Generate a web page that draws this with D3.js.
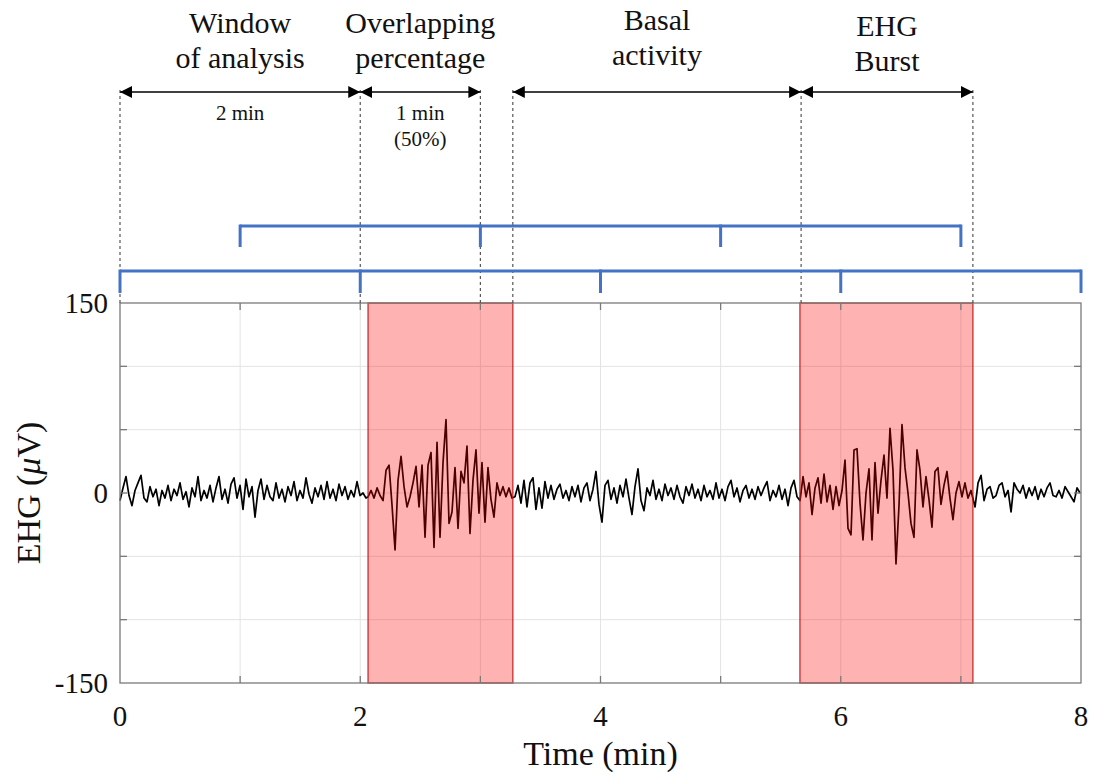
<!DOCTYPE html>
<html lang="en">
<head>
<meta charset="UTF-8">
<title>EHG windowing</title>
<script src="https://cdnjs.cloudflare.com/ajax/libs/d3/7.8.5/d3.min.js"></script>
<style>
  body { margin: 0; background: #fff; }
  svg text { font-family: "Liberation Serif", "Times New Roman", serif; fill: #111; }
</style>
</head>
<body>
<svg id="chart" width="1093" height="775"></svg>
<script>
// ---- data (time in min, EHG in µV) ----
const xTicks = [0, 1, 2, 3, 4, 5, 6, 7, 8];
const xTickLabels = [0, 2, 4, 6, 8];
const yTicks = [-150, -100, -50, 0, 50, 100, 150];
const yTickLabels = [-150, 0, 150];

// segments of the trace: [start, end] in minutes, then the sampled values
const baselineSpan = [0, 2.048];
const baselineValues = [-6, 4, 13, -2, -10, 2, 8, 14, -4, -7, 5, -3, 3, -10, 2, -4, 6, -6, 3, -2,
  8, -5, 1, -11, 4, -3, 13, -6, 2, -4, 6, -7, 4, 13, -5, 3, -8, 7, 12, -4,
  6, -13, 11, -3, 5, -19, 2, 11, -5, 6, -3, -6, 8, -4, 3, -7, 5, -2, 9, -6,
  2, -4, 12, -1, -8, 4, -3, 6, -5, 9, -4, 3, -6, 7, -2, 5, -5, 2, -3, 9,
  -2, 0, -4];
const burst1Span = [2.065, 3.263];
const burst1Values = [-3, 2, -4, 4, -2, -6, 18, 22, -10, -45, 10, 29, 5, -11, -3, 8, 21, -11, 22, -35,
  22, 32, -43, 40, -35, 24, 58, -24, -15, 20, -28, 17, 8, 37, -32, 10, 34, -16, 24, -23,
  20, -5, -19, 8, -2, 5, -3, 4, -4];
const basalSpan = [3.288, 5.636];
const basalValues = [-3, 6, -8, 10, -11, 8, 12, -13, 4, -12, 9, -4, 6, -5, 3, 7, -4, 2, -6, 5,
  -3, 6, -7, 4, 8, -6, 3, 17, -9, -23, 6, 10, -5, 4, -8, 6, -3, 11, -4, -17,
  5, 19, -6, -14, 4, -2, 10, -5, 3, -6, 7, -2, 4, -5, 6, -3, -8, 5, -2, 7,
  -4, 3, -6, 6, -3, 2, -5, 8, -4, 3, -6, 5, 10, -3, 4, -7, 2, 6, -4, 3,
  -5, 5, -2, 4, 9, -6, 2, -3, 6, -5, 3, -10, 4, 10, -3];
const burst2Span = [5.661, 7.084];
const burst2Values = [-6, 13, -3, 8, -17, 4, 12, -8, 15, -7, 6, -13, 5, -10, 2, 26, -28, -33, 34, 35,
  -8, -37, 0, 19, -37, 24, -16, 10, 30, -4, 51, 18, -56, -10, 54, 20, 0, -24, -35, 34,
  18, -11, 13, -5, -27, 17, 20, -9, 6, 17, -4, -21, 0, 9, -3, 8, -4, 2];
const tailSpan = [7.118, 7.992];
const tailValues = [-11, 8, 14, -6, 3, 5, -4, -2, 6, 8, -3, 2, -15, 8, 3, 0, 6, -4, 4, -2,
  5, -5, 3, -3, 4, 8, -2, -3, 2, -4, 5, 1, -3, -7, 4, 0];

// contraction (burst) regions and annotation marks, in minutes
const burstRegions = [[2.065, 3.27], [5.66, 7.10]];
const guideTimes = [0, 2, 3, 3.27, 5.67, 7.10];
const spanArrows = [
  { from: 0, to: 2, title: ["Window", "of analysis"], note: ["2 min"], dy: 0 },
  { from: 2, to: 3, title: ["Overlapping", "percentage"], note: ["1 min", "(50%)"], dy: 0 },
  { from: 3.27, to: 5.67, title: ["Basal", "activity"], note: [], dy: -3 },
  { from: 5.67, to: 7.10, title: ["EHG", "Burst"], note: [], dy: 3 }
];
const windowsOdd = [1, 3, 5, 7];
const windowsEven = [0, 2, 4, 6, 8];

// ---- layout ----
const svg = d3.select("#chart");
const x = d3.scaleLinear().domain([0, 8]).range([120, 1081]);
const y = d3.scaleLinear().domain([-150, 150]).range([683, 303]);
const plotTop = y(150), plotBottom = y(-150);

// build trace from segments
function segment(span, values) {
  const step = (span[1] - span[0]) / (values.length - 1);
  return values.map((v, i) => ({ t: span[0] + i * step, v }));
}
const trace = [].concat(
  segment(baselineSpan, baselineValues),
  segment(burst1Span, burst1Values),
  segment(basalSpan, basalValues),
  segment(burst2Span, burst2Values),
  segment(tailSpan, tailValues)
);

// grid
const grid = svg.append("g").attr("stroke", "#e3e3e3").attr("stroke-width", 1);
grid.selectAll(".gx").data(xTicks.slice(1, -1)).enter().append("line")
  .attr("x1", d => x(d)).attr("x2", d => x(d)).attr("y1", plotTop).attr("y2", plotBottom);
grid.selectAll(".gy").data(yTicks.slice(1, -1)).enter().append("line")
  .attr("x1", x(0)).attr("x2", x(8)).attr("y1", d => y(d)).attr("y2", d => y(d));

// signal
svg.append("path")
  .datum(trace)
  .attr("fill", "none")
  .attr("stroke", "#000")
  .attr("stroke-width", 1.7)
  .attr("stroke-linejoin", "round")
  .attr("d", d3.line().x(d => x(d.t)).y(d => y(d.v)));

// burst regions
svg.append("g").selectAll("rect").data(burstRegions).enter().append("rect")
  .attr("x", d => x(d[0])).attr("width", d => x(d[1]) - x(d[0]))
  .attr("y", plotTop).attr("height", plotBottom - plotTop)
  .attr("fill", "rgba(255,0,0,0.3)")
  .attr("stroke", "rgba(190,20,20,0.7)")
  .attr("stroke-width", 1.6);

// frame and ticks (inside, all four sides)
const frame = svg.append("g").attr("stroke", "#7a7a7a").attr("stroke-width", 1.3).attr("fill", "none");
frame.append("rect").attr("x", x(0)).attr("y", plotTop).attr("width", x(8) - x(0)).attr("height", plotBottom - plotTop);
const tl = 7;
xTicks.slice(1, -1).forEach(t => {
  frame.append("line").attr("x1", x(t)).attr("x2", x(t)).attr("y1", plotBottom).attr("y2", plotBottom - tl);
  frame.append("line").attr("x1", x(t)).attr("x2", x(t)).attr("y1", plotTop).attr("y2", plotTop + tl);
});
yTicks.slice(1, -1).forEach(v => {
  frame.append("line").attr("x1", x(0)).attr("x2", x(0) + tl).attr("y1", y(v)).attr("y2", y(v));
  frame.append("line").attr("x1", x(8)).attr("x2", x(8) - tl).attr("y1", y(v)).attr("y2", y(v));
});

// tick labels
svg.append("g").selectAll("text").data(xTickLabels).enter().append("text")
  .attr("x", d => x(d)).attr("y", 726).attr("text-anchor", "middle")
  .attr("font-size", 29).text(d => d);
svg.append("g").selectAll("text").data(yTickLabels).enter().append("text")
  .attr("x", 108).attr("y", d => y(d) + 10).attr("text-anchor", "end")
  .attr("font-size", 29).text(d => d);

// axis titles
svg.append("text").attr("x", x(4)).attr("y", 765).attr("text-anchor", "middle")
  .attr("font-size", 34).text("Time (min)");
const yl = svg.append("text").attr("transform", `translate(40,${y(0)}) rotate(-90)`)
  .attr("text-anchor", "middle").attr("font-size", 34);
yl.append("tspan").text("EHG (");
yl.append("tspan").attr("font-style", "italic").text("\u03bc");
yl.append("tspan").text("V)");

// dashed guides
svg.append("g").selectAll("line").data(guideTimes).enter().append("line")
  .attr("x1", d => x(d)).attr("x2", d => x(d)).attr("y1", 90).attr("y2", plotTop)
  .attr("stroke", "#555").attr("stroke-width", 1.2).attr("stroke-dasharray", "3,3");

// blue window brackets
function bracket(ticks, yLine, yEnd) {
  const g = svg.append("g").attr("stroke", "#4472c4").attr("stroke-width", 3).attr("fill", "none");
  g.append("line").attr("x1", x(ticks[0])).attr("x2", x(ticks[ticks.length - 1]))
    .attr("y1", yLine).attr("y2", yLine);
  g.selectAll(".t").data(ticks).enter().append("line")
    .attr("x1", d => x(d)).attr("x2", d => x(d)).attr("y1", yLine - 1.5).attr("y2", yEnd);
}
bracket(windowsOdd, 226, 247);
bracket(windowsEven, 271, 293);

// span arrows with labels
const defs = svg.append("defs");
defs.append("marker").attr("id", "ah").attr("viewBox", "0 0 12 12")
  .attr("refX", 12).attr("refY", 6).attr("markerWidth", 12).attr("markerHeight", 12)
  .attr("markerUnits", "userSpaceOnUse").attr("orient", "auto-start-reverse")
  .append("path").attr("d", "M0,0 L12,6 L0,12 Z").attr("fill", "#000");

const ay = 92;
spanArrows.forEach(a => {
  svg.append("line")
    .attr("x1", x(a.from)).attr("x2", x(a.to)).attr("y1", ay).attr("y2", ay)
    .attr("stroke", "#000").attr("stroke-width", 1.5)
    .attr("marker-start", "url(#ah)").attr("marker-end", "url(#ah)");
  const cx = (x(a.from) + x(a.to)) / 2;
  a.title.forEach((s, i) => {
    svg.append("text").attr("x", cx).attr("y", 33 + a.dy + i * 35)
      .attr("text-anchor", "middle").attr("font-size", 30).text(s);
  });
  a.note.forEach((s, i) => {
    svg.append("text").attr("x", cx).attr("y", 120 + i * 26)
      .attr("text-anchor", "middle").attr("font-size", 21).text(s);
  });
});
</script>
</body>
</html>
